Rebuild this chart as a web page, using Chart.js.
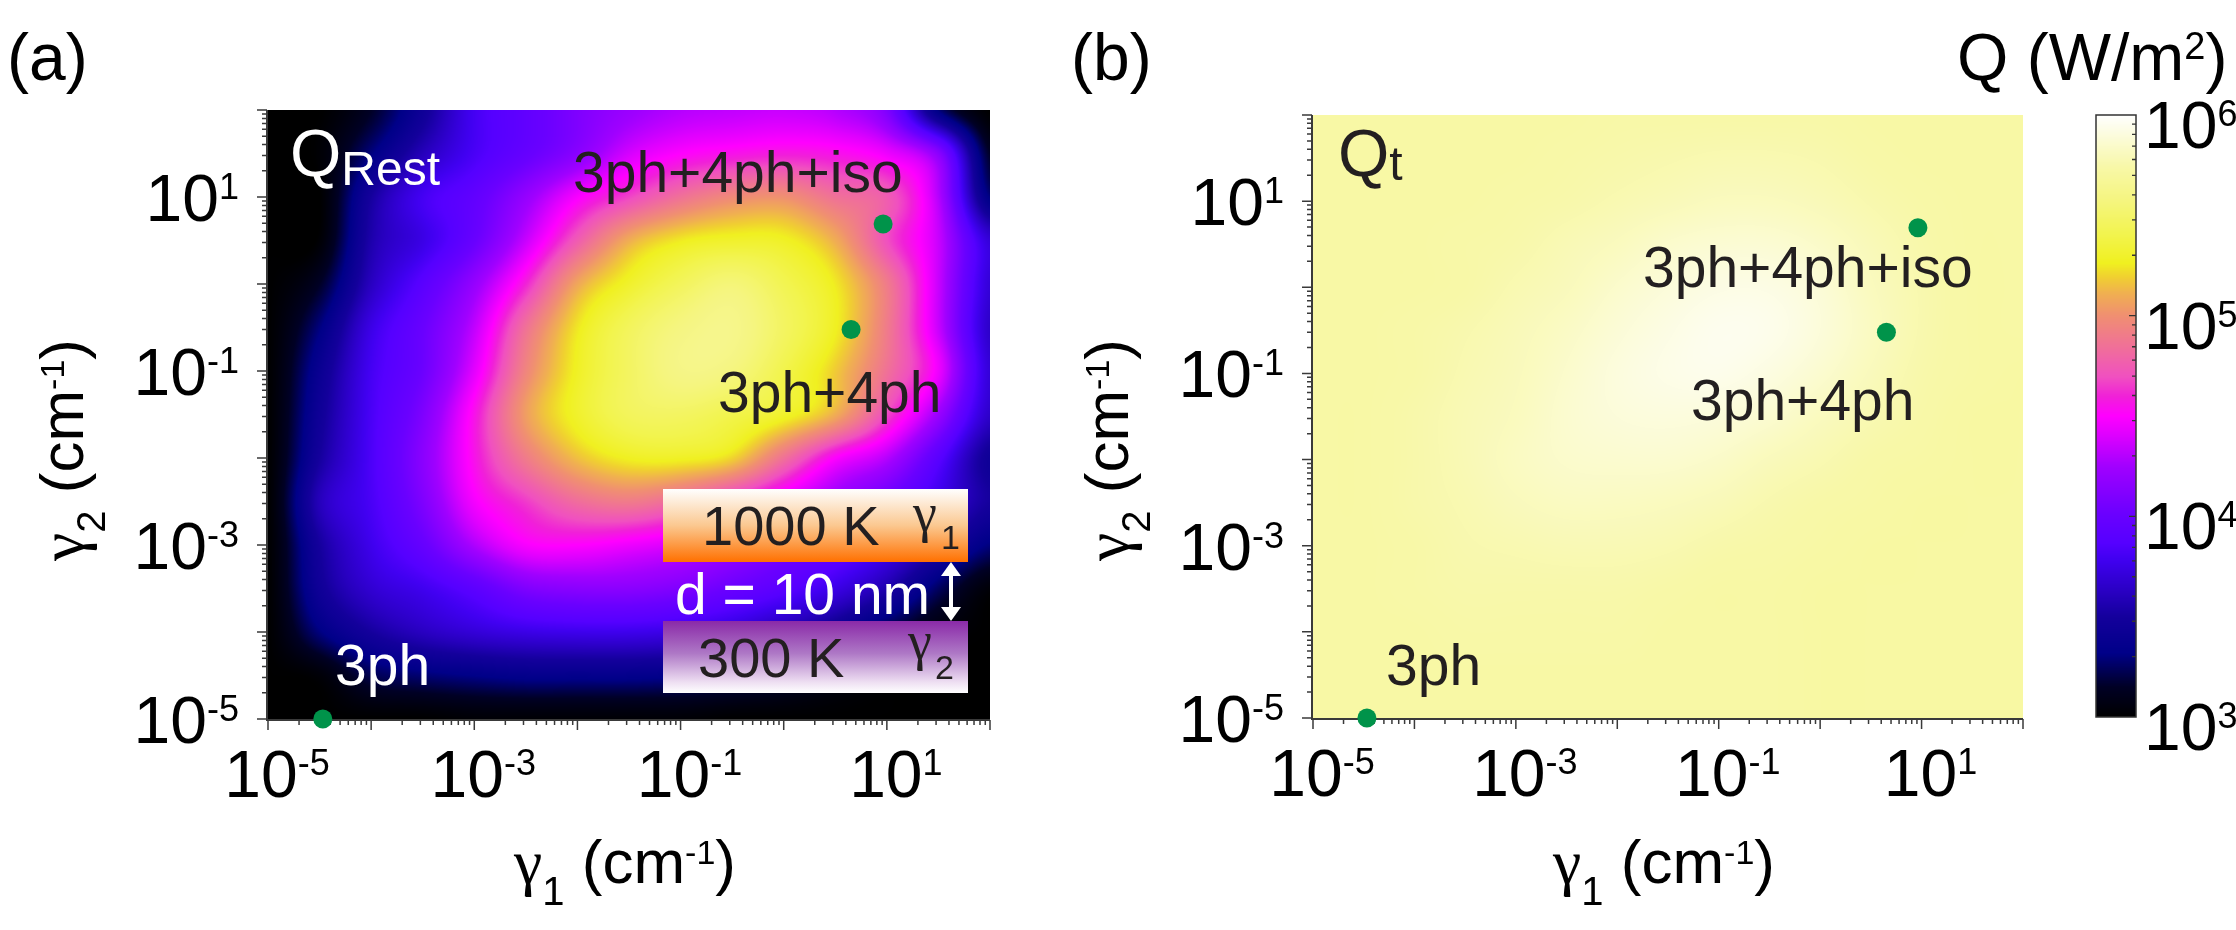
<!DOCTYPE html>
<html><head><meta charset="utf-8">
<script src="https://cdn.jsdelivr.net/npm/chart.js"></script>
<style>
html,body{margin:0;padding:0;background:#fff;}
#wrap{position:relative;width:2236px;height:930px;overflow:hidden;background:#fff;}
canvas{position:absolute;left:0;top:0;}
</style></head><body>
<div id="wrap">
<canvas id="ca" width="2236" height="930"></canvas>
<canvas id="cb" width="2236" height="930"></canvas>
<canvas id="cc" width="2236" height="930"></canvas>
</div>
<script>
// ---------------- DATA ----------------
// grid nodes: log10(gamma1) columns, log10(gamma2) rows (top -> bottom)
const logGamma1Grid = [-5,-4.5,-4,-3.5,-3,-2.5,-2,-1.5,-1,-0.5,0,0.5,1,1.5,2];
const logGamma2Grid = [2,1.5,1,0.5,0,-0.5,-1,-1.5,-2,-2.5,-3,-3.5,-4,-4.5,-5];

// log10(Q_Rest)
const logQRest = [
 [3.0,3.0,3.15,3.45,3.8,3.95,4.1,4.22,4.3,4.33,4.35,4.3,4.1,3.3,3.0],
 [3.0,3.02,3.3,3.6,3.82,3.98,4.15,4.38,4.5,4.55,4.58,4.55,4.45,4.15,3.15],
 [3.0,3.0,3.5,3.8,3.95,4.2,4.48,4.67,4.85,4.97,5.0,4.85,4.75,4.3,3.3],
 [3.0,3.02,3.55,3.75,4.0,4.35,4.75,5.1,5.25,5.3,5.28,5.1,4.7,4.35,3.7],
 [3.0,3.15,3.62,3.9,4.2,4.6,5.08,5.3,5.45,5.55,5.42,5.25,4.9,4.35,3.7],
 [3.0,3.3,3.75,4.0,4.33,4.85,5.24,5.45,5.58,5.62,5.47,5.27,4.9,4.35,3.65],
 [3.0,3.4,3.8,4.02,4.42,4.95,5.28,5.47,5.6,5.57,5.4,5.18,4.85,4.45,3.7],
 [3.0,3.45,3.82,4.1,4.55,5.05,5.3,5.45,5.47,5.4,5.3,5.1,4.68,4.22,3.65],
 [3.0,3.5,3.83,4.15,4.55,4.9,5.15,5.27,5.28,5.2,4.85,4.5,4.3,3.9,3.45],
 [3.0,3.6,3.82,4.1,4.47,4.65,4.83,4.9,4.8,4.6,4.4,4.2,4.0,3.75,3.5],
 [3.0,3.5,3.77,3.98,4.28,4.48,4.5,4.45,4.38,4.25,4.1,3.98,3.8,3.55,3.3],
 [3.0,3.45,3.68,3.78,3.92,4.1,4.15,4.15,4.1,4.0,3.9,3.75,3.55,3.25,3.03],
 [3.0,3.3,3.5,3.62,3.7,3.75,3.77,3.77,3.74,3.68,3.55,3.4,3.2,3.05,3.0],
 [3.0,3.03,3.22,3.28,3.32,3.35,3.35,3.35,3.33,3.28,3.2,3.1,3.03,3.0,3.0],
 [3.0,3.0,3.0,3.0,3.02,3.02,3.02,3.02,3.02,3.0,3.0,3.0,3.0,3.0,3.0]
];

// log10(Q_t)
const logQTotal = [
 [5.73,5.73,5.73,5.73,5.73,5.73,5.74,5.74,5.74,5.74,5.74,5.73,5.73,5.73,5.73],
 [5.73,5.73,5.73,5.73,5.73,5.74,5.75,5.76,5.77,5.77,5.76,5.74,5.73,5.73,5.73],
 [5.73,5.73,5.73,5.73,5.74,5.75,5.77,5.79,5.81,5.81,5.79,5.76,5.74,5.73,5.73],
 [5.73,5.73,5.73,5.74,5.75,5.78,5.81,5.85,5.87,5.87,5.84,5.79,5.75,5.73,5.73],
 [5.73,5.73,5.73,5.74,5.77,5.80,5.85,5.89,5.92,5.92,5.88,5.81,5.76,5.73,5.73],
 [5.73,5.73,5.74,5.76,5.79,5.83,5.88,5.92,5.95,5.94,5.89,5.82,5.76,5.73,5.73],
 [5.73,5.73,5.74,5.77,5.80,5.85,5.90,5.93,5.94,5.91,5.86,5.80,5.75,5.73,5.72],
 [5.73,5.73,5.75,5.78,5.81,5.86,5.89,5.90,5.89,5.86,5.81,5.77,5.74,5.72,5.72],
 [5.73,5.73,5.75,5.78,5.82,5.85,5.86,5.86,5.84,5.80,5.77,5.74,5.73,5.72,5.72],
 [5.73,5.73,5.75,5.77,5.80,5.82,5.82,5.81,5.79,5.76,5.74,5.73,5.72,5.72,5.72],
 [5.73,5.73,5.74,5.76,5.77,5.78,5.78,5.77,5.75,5.74,5.73,5.72,5.72,5.72,5.72],
 [5.73,5.73,5.74,5.75,5.75,5.75,5.75,5.74,5.73,5.73,5.72,5.72,5.72,5.72,5.72],
 [5.73,5.73,5.73,5.74,5.74,5.74,5.74,5.73,5.73,5.73,5.72,5.72,5.72,5.72,5.72],
 [5.73,5.73,5.73,5.73,5.73,5.73,5.73,5.73,5.73,5.73,5.72,5.72,5.72,5.72,5.72],
 [5.73,5.73,5.73,5.73,5.73,5.73,5.73,5.73,5.73,5.73,5.72,5.72,5.72,5.72,5.72]
];

// marked scattering cases
const pointLabels = ['3ph','3ph+4ph','3ph+4ph+iso'];
const pointGamma1 = [3.4e-5, 4.5, 9.2];
const pointGamma2 = [1e-5, 0.3, 4.9];

// tick labels (exponents of 10)
const axisTickExponents = [-5,-3,-1,1];
const colorbarTickExponents = [3,4,5,6];
const colorbarMin = 1e3, colorbarMax = 1e6;

// ---------------- STYLE ----------------
const colormapStops = [
 [0,'#000000'],[0.05,'#000025'],[0.106,'#000088'],[0.166,'#14009c'],[0.206,'#2800c0'],
 [0.261,'#4000f0'],[0.289,'#5500ff'],[0.337,'#6a00ff'],[0.415,'#a000ff'],[0.47,'#e000ff'],
 [0.5,'#ff00ff'],[0.532,'#f020d8'],[0.565,'#f050c0'],[0.615,'#f07098'],[0.668,'#f09070'],
 [0.704,'#f0b050'],[0.731,'#f0d030'],[0.754,'#f0f020'],[0.804,'#f2f450'],[0.859,'#f5f580'],
 [0.914,'#f8f8a8'],[0.97,'#fcfce0'],[1,'#ffffff']
];
const SANS = '"Liberation Sans", Arial, Helvetica, sans-serif';
const SERIF = '"Liberation Serif", "Times New Roman", serif';
const DARK = '#231f20';
const DOT = '#00934a';

function hex(c){return [parseInt(c.substr(1,2),16),parseInt(c.substr(3,2),16),parseInt(c.substr(5,2),16)];}
const LUT = (function(){
  const n=1024, out=new Uint8ClampedArray(n*3);
  const st = colormapStops.map(s=>[s[0],hex(s[1])]);
  for(let i=0;i<n;i++){
    const t=i/(n-1); let k=0;
    while(k<st.length-2 && t>st[k+1][0]) k++;
    const a=st[k], b=st[k+1]; const f=Math.min(1,Math.max(0,(t-a[0])/(b[0]-a[0])));
    for(let c=0;c<3;c++) out[i*3+c]=Math.round(a[1][c]+(b[1][c]-a[1][c])*f);
  }
  return out;
})();
function lutIndex(logQ){
  let t=(logQ-Math.log10(colorbarMin))/(Math.log10(colorbarMax)-Math.log10(colorbarMin));
  t=Math.max(0,Math.min(1,t)); return Math.round(t*1023)*3;
}
function cr(p0,p1,p2,p3,t){return 0.5*((2*p1)+(-p0+p2)*t+(2*p0-5*p1+4*p2-p3)*t*t+(-p0+3*p1-3*p2+p3)*t*t*t);}
function sample(arr,u){
  const n=arr.length; let i=Math.floor(u); let f=u-i;
  if(i<0){i=0;f=0;} if(i>n-2){i=n-2;f=Math.min(1,u-(n-2));}
  const g=k=>arr[Math.max(0,Math.min(n-1,k))];
  return cr(g(i-1),g(i),g(i+1),g(i+2),f);
}

function rich(ctx, parts, x, y, align){
  let w=0;
  parts.forEach(p=>{ctx.font=(p.size)+'px '+(p.serif?SERIF:SANS); p.w=ctx.measureText(p.t).width; w+=p.w;});
  let cx = align==='center'? x-w/2 : (align==='right'? x-w : x);
  ctx.textAlign='left'; ctx.textBaseline='alphabetic';
  parts.forEach(p=>{ctx.font=(p.size)+'px '+(p.serif?SERIF:SANS); ctx.fillText(p.t,cx,y+(p.dy||0)); cx+=p.w;});
  return w;
}
function powParts(e){return [{t:'10',size:66},{t:(e<0?'-'+(-e):''+e),size:36,dy:-22}];}

// heatmap drawn through the chart's scales
function heatPlugin(grid){
  return {id:'heat', beforeDatasetsDraw(chart){
    const {ctx, chartArea:a, scales:{x,y}} = chart;
    const L=Math.round(a.left), T=Math.round(a.top);
    const W=Math.round(a.right)-L, H=Math.round(a.bottom)-T;
    const img=ctx.createImageData(W,H), d=img.data;
    const gx0=logGamma1Grid[0], gxs=logGamma1Grid[1]-logGamma1Grid[0];
    const gy0=logGamma2Grid[0], gys=logGamma2Grid[1]-logGamma2Grid[0];
    const us=new Float64Array(W);
    for(let i=0;i<W;i++){us[i]=(Math.log10(x.getValueForPixel(L+i+0.5))-gx0)/gxs;}
    const cols=logGamma1Grid.length, tmp=new Array(cols);
    const colArrays=[]; for(let c=0;c<cols;c++) colArrays.push(grid.map(r=>r[c]));
    for(let j=0;j<H;j++){
      const v=(Math.log10(y.getValueForPixel(T+j+0.5))-gy0)/gys;
      for(let c=0;c<cols;c++){tmp[c]=sample(colArrays[c],v);}
      for(let i=0;i<W;i++){
        const q=sample(tmp,us[i]); const k=lutIndex(q); const o=(j*W+i)*4;
        d[o]=LUT[k]; d[o+1]=LUT[k+1]; d[o+2]=LUT[k+2]; d[o+3]=255;
      }
    }
    ctx.putImageData(img,L,T);
    drawAxes(chart);
  }};
}

function drawAxes(chart){
  const {ctx, chartArea:a, scales:{x,y}} = chart;
  ctx.save();
  ctx.strokeStyle='#3a3a3a'; ctx.lineWidth=2;
  ctx.beginPath();
  ctx.moveTo(a.left-1,a.top); ctx.lineTo(a.left-1,a.bottom+2);
  ctx.moveTo(a.left-2,a.bottom+1); ctx.lineTo(a.right,a.bottom+1);
  ctx.stroke();
  ctx.lineWidth=1.5;
  ctx.beginPath();
  for(let e=-5;e<=2;e++){
    for(let m=1;m<=9;m++){
      const v=Number(m+'e'+e); if(v>100.0001) break;
      const len=(m===1)?10:5;
      const px=x.getPixelForValue(v), py=y.getPixelForValue(v);
      ctx.moveTo(px,a.bottom+1); ctx.lineTo(px,a.bottom+1+len);
      ctx.moveTo(a.left-1,py); ctx.lineTo(a.left-1-len,py);
    }
  }
  ctx.stroke();
  ctx.fillStyle='#000';
  axisTickExponents.forEach(e=>{
    const v=Number('1e'+e);
    rich(ctx,powParts(e),x.getPixelForValue(v)+9,a.bottom+78,'center');
    rich(ctx,powParts(e),a.left-29,y.getPixelForValue(v)+24,'right');
  });
  // axis titles
  const cx=(a.left+a.right)/2-4;
  rich(ctx,[{t:'\u03b3',size:64,serif:true},{t:'1',size:40,dy:22},{t:' (cm',size:62},{t:'-1',size:34,dy:-19},{t:')',size:62}],cx,883,'center');
  ctx.save(); ctx.translate(a.left-185,450); ctx.rotate(-Math.PI/2);
  rich(ctx,[{t:'\u03b3',size:64,serif:true},{t:'2',size:40,dy:22},{t:' (cm',size:62},{t:'-1',size:34,dy:-19},{t:')',size:62}],0,0,'center');
  ctx.restore();
  ctx.restore();
}

function dataset(){
  return [{data:pointGamma1.map((g,i)=>({x:g,y:pointGamma2[i],label:pointLabels[i]})),
    pointRadius:9.5,pointHoverRadius:9.5,backgroundColor:DOT,borderWidth:0,clip:false}];
}
function panelOptions(area){
  return {responsive:false,animation:false,events:[],
    layout:{padding:{left:area.l,top:area.t,right:2236-area.r,bottom:930-area.b}},
    scales:{x:{type:'logarithmic',min:1e-5,max:1e2,display:false},
            y:{type:'logarithmic',min:1e-5,max:1e2,display:false}},
    plugins:{legend:{display:false},tooltip:{enabled:false}}};
}

// ---------------- PANEL (a) ----------------
const labelsA = {id:'labelsA', afterDatasetsDraw(chart){
  const ctx=chart.ctx; ctx.save();
  ctx.fillStyle='#000'; rich(ctx,[{t:'(a)',size:66}],7,80,'left');
  ctx.fillStyle='#fff'; rich(ctx,[{t:'Q',size:66},{t:'Rest',size:48,dy:9}],290,176,'left');
  ctx.fillStyle=DARK;
  rich(ctx,[{t:pointLabels[2],size:57}],573,192,'left');
  rich(ctx,[{t:pointLabels[1],size:57}],718,412,'left');
  ctx.fillStyle='#fff'; rich(ctx,[{t:pointLabels[0],size:57}],335,685,'left');
  // inset
  let g=ctx.createLinearGradient(0,489,0,562);
  g.addColorStop(0,'#ffffff'); g.addColorStop(0.5,'#fbc890'); g.addColorStop(1,'#ff7000');
  ctx.fillStyle=g; ctx.fillRect(663,489,305,73);
  g=ctx.createLinearGradient(0,621,0,693);
  g.addColorStop(0,'#8a2aa8'); g.addColorStop(0.45,'#ae78c6'); g.addColorStop(0.85,'#eedff2'); g.addColorStop(1,'#ffffff');
  ctx.fillStyle=g; ctx.fillRect(663,621,305,72);
  ctx.fillStyle=DARK;
  rich(ctx,[{t:'1000 K',size:56}],702,545,'left');
  rich(ctx,[{t:'\u03b3',size:54,serif:true}],913,531,'left');
  rich(ctx,[{t:'1',size:34}],941,549,'left');
  rich(ctx,[{t:'300 K',size:56}],698,677,'left');
  rich(ctx,[{t:'\u03b3',size:54,serif:true}],908,659,'left');
  rich(ctx,[{t:'2',size:34}],935,679,'left');
  ctx.fillStyle='#fff';
  rich(ctx,[{t:'d = 10 nm',size:57}],675,614,'left');
  // double arrow
  ctx.fillRect(949,572,4,40);
  ctx.beginPath(); ctx.moveTo(951,562); ctx.lineTo(961,576); ctx.lineTo(941,576); ctx.closePath(); ctx.fill();
  ctx.beginPath(); ctx.moveTo(951,621); ctx.lineTo(961,607); ctx.lineTo(941,607); ctx.closePath(); ctx.fill();
  ctx.restore();
}};
new Chart(document.getElementById('ca'),{type:'scatter',data:{datasets:dataset()},
  options:panelOptions({l:268,t:110,r:990,b:719}),plugins:[heatPlugin(logQRest),labelsA]});

// ---------------- PANEL (b) ----------------
const labelsB = {id:'labelsB', afterDatasetsDraw(chart){
  const ctx=chart.ctx; ctx.save();
  ctx.fillStyle='#000'; rich(ctx,[{t:'(b)',size:66}],1071,80,'left');
  ctx.fillStyle=DARK; rich(ctx,[{t:'Q',size:66},{t:'t',size:48,dy:4}],1338,176,'left');
  rich(ctx,[{t:pointLabels[2],size:57}],1643,287,'left');
  rich(ctx,[{t:pointLabels[1],size:57}],1691,420,'left');
  rich(ctx,[{t:pointLabels[0],size:57}],1386,685,'left');
  ctx.restore();
}};
new Chart(document.getElementById('cb'),{type:'scatter',data:{datasets:dataset()},
  options:panelOptions({l:1313,t:115,r:2023,b:718}),plugins:[heatPlugin(logQTotal),labelsB]});

// ---------------- COLORBAR ----------------
const cbarPlugin = {id:'cbar', beforeDatasetsDraw(chart){
  const {ctx, chartArea:a, scales:{y}} = chart;
  ctx.save();
  for(let py=Math.round(a.top); py<Math.round(a.bottom); py++){
    const k=lutIndex(Math.log10(y.getValueForPixel(py+0.5)));
    ctx.fillStyle='rgb('+LUT[k]+','+LUT[k+1]+','+LUT[k+2]+')';
    ctx.fillRect(a.left,py,a.right-a.left,1);
  }
  ctx.strokeStyle='#333'; ctx.lineWidth=1.5;
  ctx.strokeRect(a.left,a.top,a.right-a.left,a.bottom-a.top);
  ctx.lineWidth=1.3; ctx.beginPath();
  for(let e=3;e<=6;e++){
    for(let m=1;m<=9;m++){
      const v=Number(m+'e'+e); if(v>colorbarMax*1.0001) break;
      if(v<colorbarMin*1.0001||v>colorbarMax*0.9999) continue;
      const py=y.getPixelForValue(v); const len=(m===1)?7:4;
      ctx.moveTo(a.right,py); ctx.lineTo(a.right-len,py);
    }
  }
  ctx.stroke();
  ctx.fillStyle='#000';
  colorbarTickExponents.forEach(e=>{
    rich(ctx,powParts(e),a.right+8,y.getPixelForValue(Number('1e'+e))+33,'left');
  });
  rich(ctx,[{t:'Q (W/m',size:66},{t:'2',size:38,dy:-21},{t:')',size:66}],1957,80,'left');
  ctx.restore();
}};
new Chart(document.getElementById('cc'),{type:'scatter',data:{datasets:[{data:[]}]},
  options:{responsive:false,animation:false,events:[],
    layout:{padding:{left:2096,top:115,right:2236-2136,bottom:930-717}},
    scales:{x:{type:'linear',min:0,max:1,display:false},
            y:{type:'logarithmic',min:colorbarMin,max:colorbarMax,display:false}},
    plugins:{legend:{display:false},tooltip:{enabled:false}}},
  plugins:[cbarPlugin]});
</script>
</body></html>
